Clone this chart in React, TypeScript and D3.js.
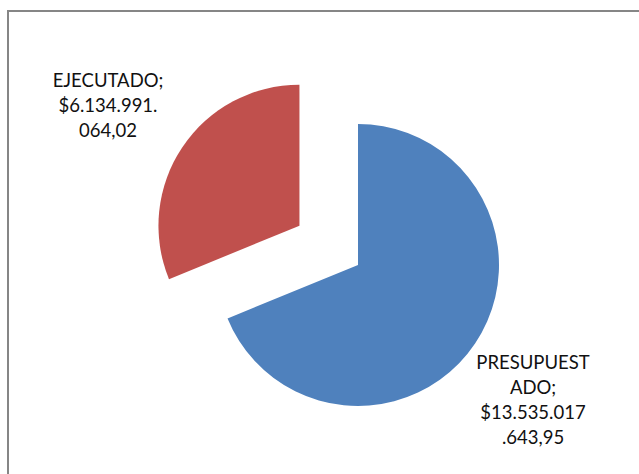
import React from "react";
import * as d3 from "d3";

// Budget vs. executed amounts
const categories = ["PRESUPUESTADO", "EJECUTADO"];
const values = [13535017643.95, 6134991064.02];
const colors = ["#4F81BD", "#C0504D"];
// Data labels as wrapped in the chart
const labelLines = [
  ["PRESUPUEST", "ADO;", "$13.535.017", ".643,95"],
  ["EJECUTADO;", "$6.134.991.", "064,02"],
];
const explode = [0, 70.5];

const W = 639;
const H = 474;
const cx = 358;
const cy = 265;
const R = 141;

const labelPos = [
  { x: 533, y: 369 },
  { x: 108, y: 87 },
];

export default function App() {
  const pie = d3
    .pie<number>()
    .sort(null)
    .startAngle(0)
    .endAngle(2 * Math.PI)(values);
  const arc = d3.arc<d3.PieArcDatum<number>>().innerRadius(0).outerRadius(R);

  return (
    <svg
      width={W}
      height={H}
      style={{ position: "absolute", left: 0, top: 0, background: "#fff" }}
      fontFamily="Lato, 'Open Sans', sans-serif"
    >
      <rect x={8} y={11} width={W + 20} height={H + 20} fill="#fff" stroke="#868686" strokeWidth={2} />
      <g transform={`translate(${cx},${cy})`}>
        {pie.map((d, i) => {
          const mid = (d.startAngle + d.endAngle) / 2;
          const dx = Math.sin(mid) * explode[i];
          const dy = -Math.cos(mid) * explode[i];
          return (
            <path
              key={categories[i]}
              d={arc(d) || ""}
              transform={`translate(${dx},${dy})`}
              fill={colors[i]}
            />
          );
        })}
      </g>
      {labelLines.map((lines, i) => (
        <text
          key={categories[i]}
          x={labelPos[i].x}
          y={labelPos[i].y}
          textAnchor="middle"
          fontSize={18.5}
          fill="#111"
        >
          {lines.map((t, j) => (
            <tspan key={j} x={labelPos[i].x} dy={j === 0 ? 0 : 25}>
              {t}
            </tspan>
          ))}
        </text>
      ))}
    </svg>
  );
}
